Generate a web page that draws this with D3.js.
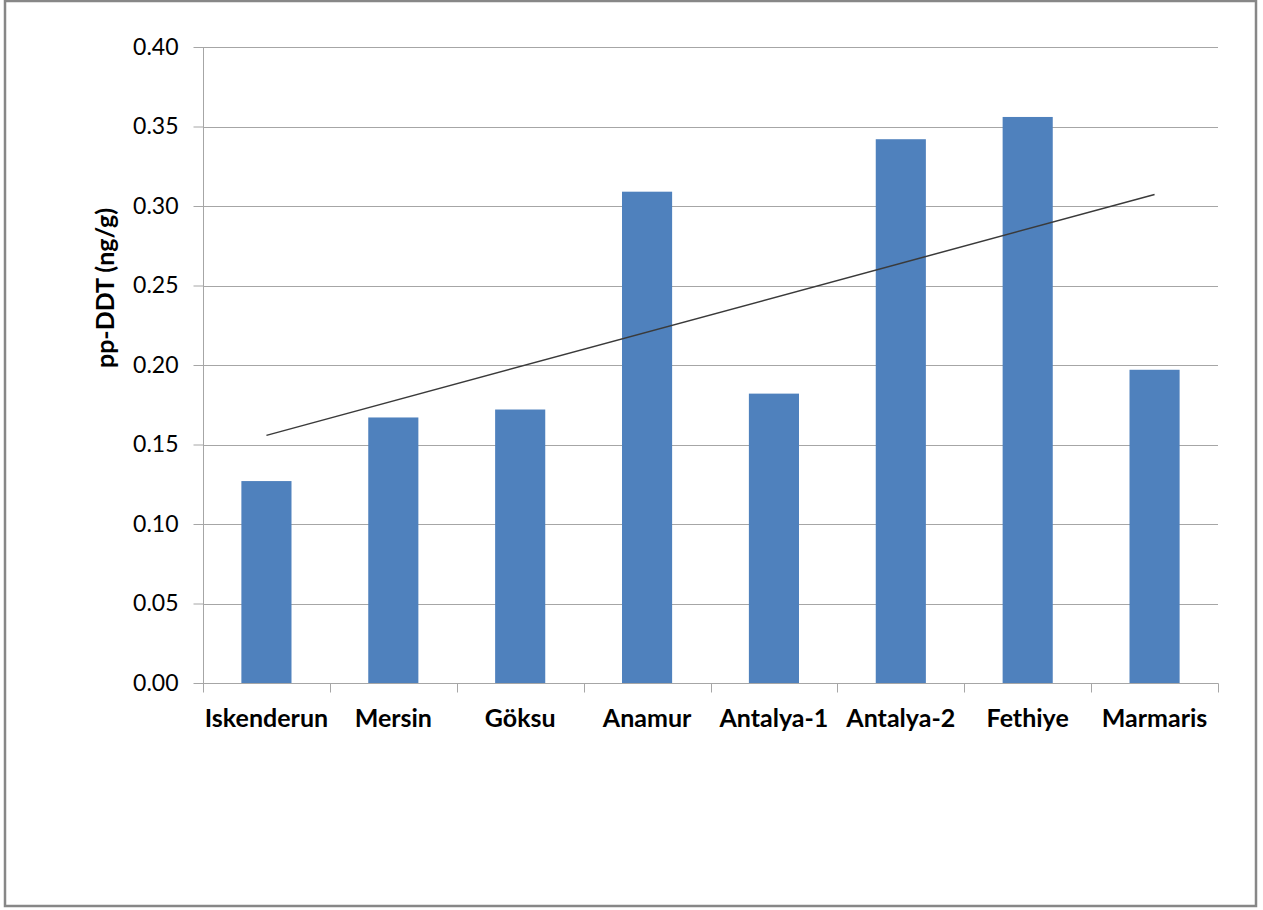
<!DOCTYPE html>
<html>
<head>
<meta charset="utf-8">
<script src="https://cdn.jsdelivr.net/npm/d3@7"></script>
<style>
  html, body { margin: 0; padding: 0; background: #fff; }
  svg { display: block; }
</style>
</head>
<body>
<div id="chart"></div>
<script>
// Sampling stations and measured pp-DDT concentrations (ng/g)
const stations = ["Iskenderun", "Mersin", "Göksu", "Anamur", "Antalya-1", "Antalya-2", "Fethiye", "Marmaris"];
const ppDDT = [0.127, 0.167, 0.172, 0.309, 0.182, 0.342, 0.356, 0.197];
const yTicks = [0.00, 0.05, 0.10, 0.15, 0.20, 0.25, 0.30, 0.35, 0.40];
const yTitle = "pp-DDT (ng/g)";

const W = 1263, H = 910;
const plot = { left: 203, right: 1218, top: 47, bottom: 683 };
const fontFamily = "Lato, 'Open Sans', sans-serif";

const svg = d3.select("#chart").append("svg")
  .attr("width", W).attr("height", H);

// outer chart frame
svg.append("rect")
  .attr("x", 5).attr("y", 1).attr("width", 1251).attr("height", 905)
  .attr("fill", "#fff").attr("stroke", "#878787").attr("stroke-width", 2.5);

const x = d3.scaleBand().domain(stations).range([plot.left, plot.right]).paddingInner(0).paddingOuter(0);
const y = d3.scaleLinear().domain([0, 0.4]).range([plot.bottom, plot.top]);

// horizontal gridlines
svg.append("g").selectAll("line").data(yTicks.filter(d => d > 0)).join("line")
  .attr("x1", plot.left).attr("x2", plot.right)
  .attr("y1", d => Math.round(y(d)) + 0.5).attr("y2", d => Math.round(y(d)) + 0.5)
  .attr("stroke", "#a6a6a6").attr("stroke-width", 1);

// bars
const barW = x.bandwidth() * 0.395;
svg.append("g").selectAll("rect").data(stations).join("rect")
  .attr("x", (d) => x(d) + (x.bandwidth() - barW) / 2)
  .attr("y", (d, i) => y(ppDDT[i]))
  .attr("width", barW)
  .attr("height", (d, i) => y(0) - y(ppDDT[i]))
  .attr("fill", "#4f81bd");

// y axis
const yAxis = d3.axisLeft(y).tickValues(yTicks).tickFormat(d3.format(".2f")).tickSize(10).tickPadding(15);
const gy = svg.append("g").attr("transform", `translate(${plot.left + 0.5},0)`).call(yAxis);
gy.select(".domain").attr("stroke", "#a6a6a6").attr("d", `M0,${plot.top}V${plot.bottom}`);
gy.selectAll(".tick line").attr("stroke", "#a6a6a6");
gy.selectAll(".tick text").attr("font-family", fontFamily).attr("font-size", 23).attr("fill", "#000");

// x axis: tick marks at category boundaries
const gx = svg.append("g").attr("transform", `translate(0,${plot.bottom + 0.5})`);
gx.append("line").attr("x1", plot.left).attr("x2", plot.right + 0.5)
  .attr("stroke", "#a6a6a6");
const bounds = stations.map(d => x(d)).concat([plot.right]);
gx.selectAll(".bnd").data(bounds).join("line").attr("class", "bnd")
  .attr("x1", d => Math.round(d) + 0.5).attr("x2", d => Math.round(d) + 0.5)
  .attr("y1", 0).attr("y2", 9).attr("stroke", "#a6a6a6");
gx.selectAll("text").data(stations).join("text")
  .attr("x", d => x(d) + x.bandwidth() / 2)
  .attr("y", 43)
  .attr("text-anchor", "middle")
  .attr("font-family", fontFamily).attr("font-weight", "bold").attr("font-size", 25)
  .attr("fill", "#000")
  .text(d => d);

// y axis title
svg.append("text")
  .attr("transform", `translate(114,288) rotate(-90)`)
  .attr("text-anchor", "middle")
  .attr("font-family", fontFamily).attr("font-weight", "bold").attr("font-size", 25)
  .attr("fill", "#000")
  .text(yTitle);

// linear trend line fitted to the station values (index 1..n)
const n = ppDDT.length;
const xs = d3.range(1, n + 1);
const mx = d3.mean(xs), my = d3.mean(ppDDT);
const slope = d3.sum(xs.map((v, i) => (v - mx) * (ppDDT[i] - my))) / d3.sum(xs.map(v => (v - mx) ** 2));
const icpt = my - slope * mx;
const cx = i => x(stations[i]) + x.bandwidth() / 2;
svg.append("line")
  .attr("x1", cx(0)).attr("y1", y(icpt + slope * 1))
  .attr("x2", cx(n - 1)).attr("y2", y(icpt + slope * n))
  .attr("stroke", "#3a3a3a").attr("stroke-width", 1.5);
</script>
</body>
</html>
